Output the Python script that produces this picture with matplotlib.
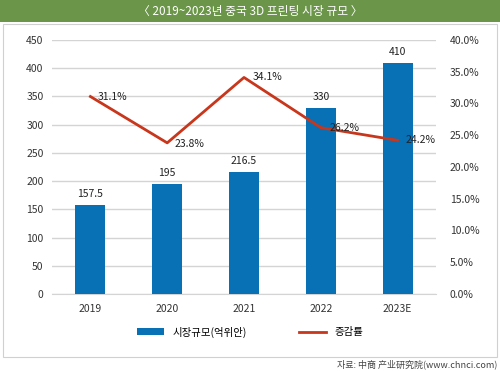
import matplotlib
matplotlib.use("Agg")
import matplotlib.pyplot as plt
from matplotlib.patches import Rectangle

plt.rcParams['font.family'] = ['Noto Sans CJK KR', 'DejaVu Sans']

# 데이터
years = ['2019', '2020', '2021', '2022', '2023E']
market_size = [157.5, 195, 216.5, 330, 410]
growth = [31.1, 23.8, 34.1, 26.2, 24.2]
size_labels = ['157.5', '195', '216.5', '330', '410']

bar_color = '#0870B4'
line_color = '#C8361B'
banner_color = '#6B9548'

fig = plt.figure(figsize=(5, 3.71), dpi=100)

# 상단 제목 배너
fig.patches.append(Rectangle((0, 1 - 22 / 371), 1, 22 / 371, transform=fig.transFigure,
                             facecolor=banner_color, edgecolor='none', zorder=-2))
fig.text(0.5, 1 - 11 / 371, '〈 2019~2023년 중국 3D 프린팅 시장 규모 〉', color='white',
         ha='center', va='center', fontsize=8.5)

# 차트 테두리
fig.patches.append(Rectangle((3 / 500, 1 - 357 / 371), 494 / 500, 333 / 371, transform=fig.transFigure,
                             facecolor='none', edgecolor='#d0d0d0', linewidth=0.8, zorder=-2))

ax = fig.add_axes([52 / 500, 1 - 294 / 371, 384 / 500, 254 / 371])
ax.set_facecolor('none')
x = range(len(years))
bars = ax.bar(x, market_size, width=0.39, color=bar_color, label='시장규모(억위안)', zorder=3)
ax.set_ylim(0, 450)
ax.set_yticks(range(0, 451, 50))
ax.set_xlim(-0.5, len(years) - 0.5)
ax.set_xticks(list(x))
ax.set_xticklabels(years)
ax.grid(axis='y', color='#d4d4d4', linewidth=1, zorder=0)
for s in ['top', 'right', 'left']:
    ax.spines[s].set_visible(False)
ax.spines['bottom'].set_color('#d4d4d4')
ax.tick_params(length=0, labelsize=7.5, colors='#333333', pad=6)
ax.tick_params(axis='x', pad=7)

for i, v in enumerate(market_size):
    ax.text(i, v + 10, size_labels[i], ha='center', va='bottom', fontsize=7.5, color='#222222')

ax2 = ax.twinx()
ax2.plot(list(x), growth, color=line_color, linewidth=2, label='증감률', zorder=4)
ax2.set_ylim(0, 40)
ax2.set_yticks(range(0, 41, 5))
ax2.set_yticklabels([f'{v:.1f}%' for v in range(0, 41, 5)])
for s in ['top', 'right', 'left', 'bottom']:
    ax2.spines[s].set_visible(False)
ax2.tick_params(length=0, labelsize=7.5, colors='#333333', pad=10)

offsets = [(5, 0), (5, -1), (6, 0), (6, 0), (6, 0)]
for i, g in enumerate(growth):
    dx, dy = offsets[i]
    ax2.annotate(f'{g}%', (i, g), xytext=(dx, dy), textcoords='offset points',
                 ha='left', va='center', fontsize=7.5, color='#222222', zorder=5)

h1, l1 = ax.get_legend_handles_labels()
h2, l2 = ax2.get_legend_handles_labels()
fig.legend(h1 + h2, l1 + l2, loc='center', bbox_to_anchor=(0.5, 1 - 332 / 371), ncol=2,
           frameon=False, fontsize=7.5, handlelength=2.6, handleheight=0.7, columnspacing=5)

fig.text(0.995, 1 - 364 / 371, '자료: 中商 产业研究院(www.chnci.com)', ha='right', va='center',
         fontsize=6.5, color='#444444')

fig.savefig('out.png', dpi=100)
